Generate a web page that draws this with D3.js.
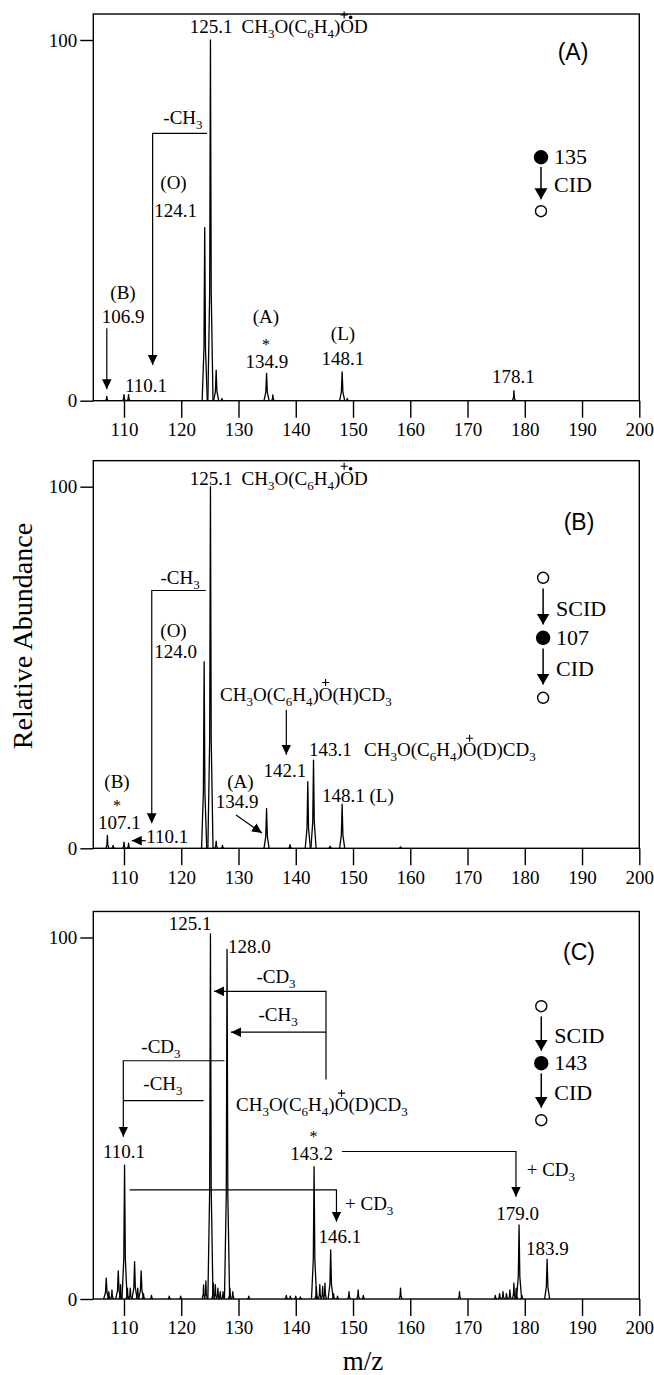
<!DOCTYPE html>
<html>
<head>
<meta charset="utf-8">
<script src="https://cdn.jsdelivr.net/npm/d3@7"></script>
<style>
  body { margin: 0; background: #fff; }
  svg { display: block; }
  text { font-family: "Liberation Serif", "Times New Roman", serif; fill: #000; }
  .panel-id { font-family: "Liberation Sans", Arial, sans-serif; }
</style>
</head>
<body>
<svg id="chart"></svg>
<script>
// ---- data ----
const mzTicks = [110, 120, 130, 140, 150, 160, 170, 180, 190, 200];
const abundanceTicks = [0, 100];

// [m/z, relative abundance %]
const peaksA = [
  [107.0, 1.2], [110.0, 1.7], [110.8, 1.7], [124.1, 48], [125.1, 100], [126.1, 8.5],
  [127.1, 0.6], [134.9, 7.6], [136.0, 1.6], [148.1, 8.0], [149.0, 0.6], [178.1, 2.8]
];
const peaksB = [
  [107.1, 3.6], [108.1, 0.8], [110.0, 1.7], [110.8, 1.4], [124.0, 51.6], [125.1, 100],
  [126.1, 2.0], [127.2, 0.8], [134.9, 11], [139.0, 1.0], [142.1, 18.4], [143.1, 24.4],
  [146.0, 0.6], [148.1, 12.2], [158.3, 0.4]
];
const peaksC = [
  [106.9, 5.8], [107.35, 2.0], [107.9, 2.5], [109.0, 7.8], [109.4, 4.0], [110.1, 37],
  [110.6, 3.0], [111.1, 3.0], [111.85, 10.3], [112.4, 3.0], [113.0, 7.8], [113.4, 1.5],
  [114.8, 1.0], [117.9, 0.8], [119.9, 0.8], [123.9, 3.9], [124.3, 5.0], [125.1, 101],
  [125.6, 4.4], [125.95, 4.0], [126.4, 3.0], [126.8, 2.0], [127.3, 2.0], [128.0, 96.7],
  [128.5, 3.0], [129.0, 2.0], [131.8, 0.8], [138.35, 1.0], [139.05, 0.8], [140.0, 0.8],
  [140.8, 0.6], [143.2, 36.6], [143.6, 3.4], [144.2, 4.0], [144.7, 3.5], [145.1, 4.4],
  [146.1, 13.6], [146.6, 1.5], [147.3, 0.8], [149.3, 2.0], [150.9, 2.5], [151.8, 1.0],
  [158.3, 3.0], [168.6, 2.0], [174.85, 1.0], [175.6, 1.5], [176.2, 2.0], [176.8, 1.5],
  [177.4, 2.5], [178.1, 4.4], [178.5, 3.0], [179.0, 20.5], [179.5, 1.0], [183.9, 11]
];

// annotations in data coords (m/z, %). "_x" = subscript, "[O]" = charged atom, "|" = gap
const labelsA = [
  {s: "125.1|CH_3O(C_6H_4)[O]D", mz: 121.5, v: 101.9, a: "start", charge: "+•"},
  {s: "-CH_3", mz: 120.3, v: 76.6},
  {s: "(O)", mz: 118.65, v: 58.6},
  {s: "124.1", mz: 119.0, v: 50.9},
  {s: "(B)", mz: 109.83, v: 28.2},
  {s: "106.9", mz: 109.83, v: 21.5},
  {s: "110.1", mz: 110.18, v: 2.4, a: "start"},
  {s: "(A)", mz: 134.8, v: 21.6},
  {s: "*", mz: 134.8, v: 14.0, fs: 16},
  {s: "134.9", mz: 134.97, v: 9.2},
  {s: "(L)", mz: 148.25, v: 16.8},
  {s: "148.1", mz: 148.25, v: 9.9},
  {s: "178.1", mz: 178.0, v: 4.9}
];
const arrowsA = [
  {p: [[124.5, 74.1], [115.0, 74.1], [115.0, 9.9]], head: true},
  {p: [[107.0, 20.1], [107.0, 3.2]], head: true}
];

const labelsB = [
  {s: "125.1|CH_3O(C_6H_4)[O]D", mz: 121.5, v: 100.6, a: "start", charge: "+•"},
  {s: "-CH_3", mz: 119.8, v: 73.2},
  {s: "(O)", mz: 118.65, v: 58.5},
  {s: "124.0", mz: 119.0, v: 52.7},
  {s: "CH_3O(C_6H_4)[O](H)CD_3", mz: 126.77, v: 40.8, a: "start", charge: "+"},
  {s: "142.1", mz: 138.12, v: 19.7},
  {s: "143.1", mz: 142.31, v: 25.4, a: "start"},
  {s: "CH_3O(C_6H_4)[O](D)CD_3", mz: 151.92, v: 25.4, a: "start", charge: "+"},
  {s: "(A)", mz: 130.33, v: 16.7},
  {s: "134.9", mz: 129.74, v: 11.1},
  {s: "148.1 (L)", mz: 144.58, v: 12.9, a: "start"},
  {s: "(B)", mz: 108.78, v: 16.6},
  {s: "*", mz: 108.78, v: 10.3, fs: 16},
  {s: "107.1", mz: 109.2, v: 5.4},
  {s: "110.1", mz: 113.9, v: 1.4, a: "start"}
];
const arrowsB = [
  {p: [[124.3, 71.3], [114.85, 71.3], [114.85, 6.9]], head: true},
  {p: [[138.35, 38.3], [138.35, 25.9]], head: true},
  {p: [[129.56, 9.2], [134.1, 4.2]], head: true},
  {p: [[113.8, 2.1], [111.35, 2.1]], head: true}
];

const labelsC = [
  {s: "125.1", mz: 121.56, v: 102.2},
  {s: "128.0", mz: 128.16, v: 95.8, a: "start"},
  {s: "-CD_3", mz: 136.55, v: 87.5},
  {s: "-CH_3", mz: 136.9, v: 76.8},
  {s: "-CD_3", mz: 116.46, v: 68.1},
  {s: "-CH_3", mz: 116.81, v: 57.9},
  {s: "CH_3O(C_6H_4)[O](D)CD_3", mz: 129.56, v: 51.9, a: "start", charge: "+"},
  {s: "*", mz: 143.1, v: 43.4, fs: 16},
  {s: "110.1", mz: 110.0, v: 39.0},
  {s: "143.2", mz: 142.75, v: 38.5},
  {s: "+ CD_3", mz: 180.33, v: 33.9, a: "start"},
  {s: "179.0", mz: 178.77, v: 21.9},
  {s: "+ CD_3", mz: 148.6, v: 24.7, a: "start"},
  {s: "146.1", mz: 143.97, v: 15.4, a: "start"},
  {s: "183.9", mz: 180.21, v: 12.2, a: "start"}
];
const arrowsC = [
  {p: [[145.28, 60.7], [145.28, 85.1], [125.72, 85.1]], head: true},
  {p: [[145.28, 73.8], [128.69, 73.8]], head: true},
  {p: [[127.55, 65.9], [109.88, 65.9], [109.88, 44.9]], head: true},
  {p: [[123.9, 54.9], [109.88, 54.9]], head: false},
  {p: [[148.07, 40.8], [178.46, 40.8], [178.46, 28.3]], head: true},
  {p: [[110.98, 30.2], [147.11, 30.2], [147.11, 21.4]], head: true}
];

// MS/MS scheme legends
const legendA = {mz: 182.83, v: 67.5, step: 54, items: [{k: "filled", t: "135"}, {k: "arrow", t: "CID"}, {k: "open"}]};
const legendB = {mz: 183.2, v: 74.8, step: 60, items: [{k: "open"}, {k: "arrow", t: "SCID"}, {k: "filled", t: "107"}, {k: "arrow", t: "CID"}, {k: "open"}]};
const legendC = {mz: 182.88, v: 81.0, step: 57, items: [{k: "open"}, {k: "arrow", t: "SCID"}, {k: "filled", t: "143"}, {k: "arrow", t: "CID"}, {k: "open"}]};

// ---- layout ----
const width = 654, height = 1375;
const panels = [
  {id: "(A)", idPos: [188.43, 94.4], peaks: peaksA, labels: labelsA, arrows: arrowsA, legend: legendA, y100: 40, y0: 400.7},
  {id: "(B)", idPos: [189.47, 88.1], peaks: peaksB, labels: labelsB, arrows: arrowsB, legend: legendB, y100: 486.7, y0: 848.3},
  {id: "(C)", idPos: [189.47, 93.8], peaks: peaksC, labels: labelsC, arrows: arrowsC, legend: legendC, y100: 937.5, y0: 1299}
];

const svg = d3.select("#chart").attr("width", width).attr("height", height);

const defs = svg.append("defs");
defs.append("marker").attr("id", "head")
    .attr("viewBox", "0 -5 10 10").attr("refX", 10).attr("refY", 0)
    .attr("markerWidth", 10).attr("markerHeight", 10)
    .attr("markerUnits", "userSpaceOnUse").attr("orient", "auto")
  .append("path").attr("d", "M0,-4.8L10,0L0,4.8Z").attr("fill", "#000");
defs.append("marker").attr("id", "head2")
    .attr("viewBox", "0 -7 11 14").attr("refX", 11).attr("refY", 0)
    .attr("markerWidth", 11).attr("markerHeight", 14)
    .attr("markerUnits", "userSpaceOnUse").attr("orient", "auto")
  .append("path").attr("d", "M0,-6.5L11,0L0,6.5Z").attr("fill", "#000");

const x = d3.scaleLinear().domain([104.64, 200]).range([93.3, 639.3]);

// parse simple chemistry markup into segments
function parseFormula(s) {
  const segs = [];
  let cur = {text: "", sub: false, dx: 0};
  let idx = 0, chargeIdx = -1;
  for (let i = 0; i < s.length; i++) {
    const c = s[i];
    if (c === "|") { segs.push(cur); cur = {text: "", sub: false, dx: 9}; }
    else if (c === "_") {
      segs.push(cur);
      segs.push({text: s[i + 1], sub: true, dx: 0});
      idx++; i++;
      cur = {text: "", sub: false, dx: 0};
    }
    else if (c === "[") { chargeIdx = idx; }
    else if (c === "]") { }
    else { cur.text += c; idx++; }
  }
  segs.push(cur);
  return {segs: segs.filter(d => d.text.length), chargeIdx};
}

function drawLabel(g, d, y) {
  const fs = d.fs || 19;
  const t = g.append("text")
      .attr("x", x(d.mz)).attr("y", y(d.v))
      .attr("text-anchor", d.a || "middle")
      .style("font-size", fs + "px");
  const f = parseFormula(d.s);
  let shift = 0;
  f.segs.forEach(seg => {
    const s = seg.sub ? 5 : 0;
    t.append("tspan")
        .attr("dy", s - shift)
        .attr("dx", seg.dx || null)
        .style("font-size", seg.sub ? "13px" : null)
        .text(seg.text);
    shift = s;
  });
  if (d.charge && f.chargeIdx >= 0) {
    const ext = t.node().getExtentOfChar(f.chargeIdx);
    const cx = ext.x + ext.width / 2;
    const capTop = y(d.v) - 0.67 * fs;
    const px = d.charge === "+•" ? cx - 3 : cx;
    const py = capTop - 5.5;
    g.append("path")
        .attr("d", `M${px - 3.5},${py}H${px + 3.5}M${px},${py - 3.5}V${py + 3.5}`)
        .attr("stroke", "#000").attr("stroke-width", 1.1).attr("fill", "none");
    if (d.charge === "+•") {
      g.append("circle").attr("cx", cx + 3.5).attr("cy", capTop - 3)
          .attr("r", 1.8).attr("fill", "#000");
    }
  }
}

const line = d3.line();

panels.forEach(p => {
  const y = d3.scaleLinear().domain([0, 100]).range([p.y0, p.y100]);
  const g = svg.append("g");

  // frame
  g.append("rect")
      .attr("x", x(104.64)).attr("y", y(107.2))
      .attr("width", x(200) - x(104.64)).attr("height", y(0) - y(107.2))
      .attr("fill", "none").attr("stroke", "#000").attr("stroke-width", 1.4);

  // axes
  const xa = g.append("g").attr("transform", `translate(0,${y(0)})`)
      .call(d3.axisBottom(x).tickValues(mzTicks).tickSize(17).tickPadding(5));
  xa.select(".domain").remove();
  xa.selectAll("line").attr("stroke-width", 1.4);
  xa.selectAll("text").style("font-size", "19px")
      .style("font-family", "'Liberation Serif', 'Times New Roman', serif");

  const ya = g.append("g").attr("transform", `translate(${x(104.64)},0)`)
      .call(d3.axisLeft(y).tickValues(abundanceTicks).tickSize(13).tickPadding(3));
  ya.select(".domain").remove();
  ya.selectAll("line").attr("stroke-width", 1.4);
  ya.selectAll("text").style("font-size", "19px")
      .style("font-family", "'Liberation Serif', 'Times New Roman', serif");

  // spectrum peaks
  g.selectAll(".peak").data(p.peaks).join("path")
      .attr("class", "peak")
      .attr("d", d => {
        const w = d[1] > 5 ? 0.45 : 0.25;
        const pts = [[d[0] - w, 0], [d[0] - w * 0.3, d[1] * 0.3], [d[0], d[1]],
                     [d[0] + w * 0.3, d[1] * 0.3], [d[0] + w, 0]];
        return line(pts.map(q => [x(q[0]), y(q[1])]));
      })
      .attr("fill", "none").attr("stroke", "#000").attr("stroke-width", 1.3)
      .attr("stroke-linejoin", "round");

  // annotation arrows
  p.arrows.forEach(a => {
    g.append("path")
        .attr("d", line(a.p.map(q => [x(q[0]), y(q[1])])))
        .attr("fill", "none").attr("stroke", "#000").attr("stroke-width", 1.2)
        .attr("marker-end", a.head ? "url(#head)" : null);
  });

  // annotation labels
  p.labels.forEach(d => drawLabel(g, d, y));

  // panel id
  g.append("text").attr("class", "panel-id")
      .attr("x", x(p.idPos[0])).attr("y", y(p.idPos[1]))
      .attr("text-anchor", "middle").style("font-size", "23px")
      .text(p.id);

  // legend scheme
  const L = p.legend;
  const lx = x(L.mz);
  let cy = y(L.v);
  L.items.forEach(it => {
    if (it.k === "arrow") {
      g.append("line")
          .attr("x1", lx).attr("x2", lx)
          .attr("y1", cy + L.step * 0.18).attr("y2", cy + L.step * 0.78)
          .attr("stroke", "#000").attr("stroke-width", 1.5)
          .attr("marker-end", "url(#head2)");
      g.append("text").attr("x", lx + 13).attr("y", cy + L.step * 0.64)
          .style("font-size", "22px").text(it.t);
      cy += L.step;
    } else {
      g.append("circle").attr("cx", lx).attr("cy", cy)
          .attr("r", it.k === "filled" ? 6.5 : 5.5)
          .attr("fill", it.k === "filled" ? "#000" : "#fff")
          .attr("stroke", "#000").attr("stroke-width", 1.4);
      if (it.t) {
        g.append("text").attr("x", lx + 13).attr("y", cy + 7)
            .style("font-size", "22px").text(it.t);
      }
    }
  });
});

// axis titles
svg.append("text")
    .attr("transform", "translate(31.5,636) rotate(-90)")
    .attr("text-anchor", "middle").style("font-size", "28px")
    .text("Relative Abundance");
svg.append("text")
    .attr("x", 363).attr("y", 1370)
    .attr("text-anchor", "middle").style("font-size", "27px")
    .text("m/z");
</script>
</body>
</html>
